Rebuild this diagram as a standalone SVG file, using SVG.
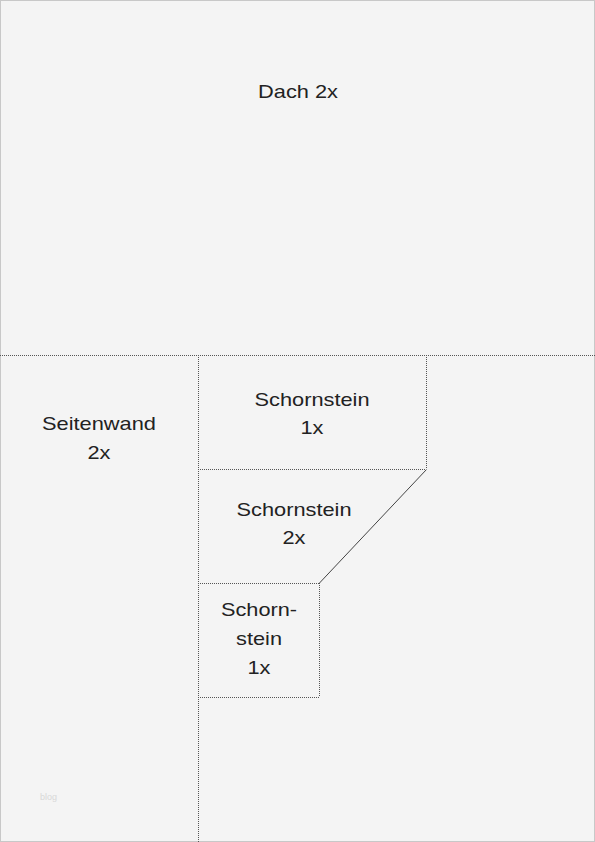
<svg xmlns="http://www.w3.org/2000/svg" width="595" height="842" viewBox="0 0 595 842">
<style>
.ln{stroke:#555;stroke-width:1;fill:none;stroke-dasharray:1 1}
.dg{stroke:#444;stroke-width:1;fill:none}
.t{font-family:"Liberation Sans",Arial,sans-serif;font-size:19px;fill:#222;text-anchor:middle}
</style>
<rect x="0.5" y="0.5" width="594" height="841" fill="#f4f4f4" stroke="#c8c8c8" stroke-width="1"/>
<g id="connectors">
<line class="ln" x1="0" y1="355.5" x2="595" y2="355.5"/>
<line class="ln" x1="198.5" y1="355" x2="198.5" y2="842"/>
<line class="ln" x1="426.5" y1="355" x2="426.5" y2="469"/>
<line class="ln" x1="198" y1="469.5" x2="426" y2="469.5"/>
<line class="dg" x1="426.5" y1="469.5" x2="319.5" y2="583"/>
<line class="ln" x1="198" y1="583.5" x2="319" y2="583.5"/>
<line class="ln" x1="319.5" y1="583" x2="319.5" y2="697"/>
<line class="ln" x1="198" y1="697.5" x2="319" y2="697.5"/>
</g>
<g id="dach"><text class="t" x="298" y="98" textLength="80" lengthAdjust="spacingAndGlyphs">Dach 2x</text></g>
<g id="seitenwand"><text class="t" x="99" y="430" textLength="114" lengthAdjust="spacingAndGlyphs">Seitenwand</text><text class="t" x="99" y="459" textLength="23" lengthAdjust="spacingAndGlyphs">2x</text></g>
<g id="schornstein1"><text class="t" x="312" y="405.5" textLength="115" lengthAdjust="spacingAndGlyphs">Schornstein</text><text class="t" x="312" y="433.5" textLength="23" lengthAdjust="spacingAndGlyphs">1x</text></g>
<g id="schornstein2"><text class="t" x="294" y="515.5" textLength="115" lengthAdjust="spacingAndGlyphs">Schornstein</text><text class="t" x="294" y="544" textLength="23" lengthAdjust="spacingAndGlyphs">2x</text></g>
<g id="schornstein3"><text class="t" x="259" y="616" textLength="76" lengthAdjust="spacingAndGlyphs">Schorn-</text><text class="t" x="259" y="645" textLength="46" lengthAdjust="spacingAndGlyphs">stein</text><text class="t" x="259" y="674" textLength="23" lengthAdjust="spacingAndGlyphs">1x</text></g>
<g id="watermark"><text x="40" y="800" font-family="'Liberation Sans',Arial,sans-serif" font-size="9" fill="#d8d8d8">blog</text></g>
</svg>
